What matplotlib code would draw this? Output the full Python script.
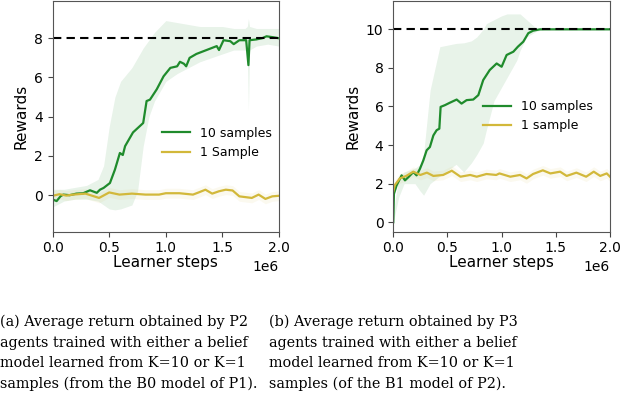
import numpy as np
import matplotlib
matplotlib.use("Agg")
import matplotlib.pyplot as plt

# ---- panel (a): P2 agents ----
a_green_x = [0, 0.035, 0.07, 0.094, 0.15, 0.21, 0.27, 0.33, 0.39, 0.418, 0.45, 0.506,
             0.55, 0.594, 0.62, 0.64, 0.71, 0.8, 0.83, 0.86, 0.92, 0.98, 1.04, 1.1,
             1.125, 1.16, 1.18, 1.21, 1.27, 1.36, 1.45, 1.47, 1.51, 1.57, 1.6, 1.65,
             1.71, 1.73, 1.74, 1.8, 1.85, 1.89, 1.95, 2.0]
a_green_y = [-0.22, -0.3, -0.05, 0.03, 0.0, 0.08, 0.1, 0.25, 0.12, 0.28, 0.37, 0.62,
             1.3, 2.15, 2.05, 2.5, 3.2, 3.68, 4.8, 4.87, 5.4, 6.06, 6.49, 6.57, 6.8,
             6.7, 6.57, 7.0, 7.2, 7.4, 7.6, 7.4, 7.9, 7.85, 7.7, 7.9, 7.9, 6.63, 7.9,
             7.94, 8.0, 8.1, 8.05, 8.0]
a_band_x = [0, 0.1, 0.2, 0.3, 0.4, 0.45, 0.5, 0.55, 0.6, 0.7, 0.75, 0.8, 0.85, 0.9, 1.0,
            1.1, 1.2, 1.3, 1.4, 1.5, 1.6, 1.7, 1.72, 1.73, 1.74, 1.8, 1.9, 2.0]
a_band_hi = [0.3, 0.3, 0.4, 0.5, 0.8, 1.5, 3.5, 5.0, 5.8, 6.5, 7.0, 7.5, 7.9, 8.3, 8.9,
             8.8, 8.7, 8.6, 8.6, 8.6, 8.5, 8.5, 8.6, 9.0, 8.6, 8.5, 8.5, 8.5]
a_band_lo = [-0.6, -0.3, -0.2, -0.2, -0.3, -0.5, -0.7, -0.75, -0.7, -0.5, 0.2, 2.5, 4.0,
             4.8, 5.8, 6.2, 6.5, 6.8, 7.0, 7.2, 7.4, 7.4, 7.3, 4.3, 7.4, 7.6, 7.7, 7.6]
a_yellow_x = [0, 0.06, 0.12, 0.18, 0.29, 0.41, 0.5, 0.59, 0.7, 0.82, 0.94, 1.0, 1.12,
              1.24, 1.29, 1.35, 1.41, 1.47, 1.53, 1.59, 1.65, 1.76, 1.82, 1.88, 1.94,
              2.0]
a_yellow_y = [-0.03, 0.05, -0.02, 0.03, 0.08, -0.14, 0.14, 0.03, 0.08, 0.03, 0.03, 0.1,
              0.1, 0.03, 0.14, 0.28, 0.08, 0.2, 0.28, 0.24, -0.06, -0.14, 0.03, -0.19,
              -0.06, -0.03]
a_target = 8

# ---- panel (b): P3 agents ----
b_green_x = [0, 0.006, 0.03, 0.077, 0.108, 0.14, 0.185, 0.215, 0.246, 0.277, 0.308,
             0.338, 0.37, 0.4, 0.425, 0.437, 0.477, 0.52, 0.585, 0.63, 0.677, 0.738,
             0.785, 0.83, 0.89, 0.954, 1.0, 1.046, 1.108, 1.15, 1.2, 1.246, 1.29, 1.354,
             1.6, 2.0]
b_green_y = [0.0, 1.47, 1.9, 2.43, 2.17, 2.34, 2.6, 2.43, 2.77, 3.2, 3.73, 3.9, 4.5,
             4.77, 4.85, 5.98, 6.07, 6.19, 6.36, 6.15, 6.33, 6.36, 6.59, 7.37, 7.89,
             8.23, 8.06, 8.67, 8.84, 9.1, 9.36, 9.8, 9.93, 10.0, 10.0, 10.0]
b_band_x = [0, 0.05, 0.1, 0.2, 0.25, 0.28, 0.34, 0.43, 0.58, 0.65, 0.72, 0.77, 0.83,
            0.86, 0.93, 1.0, 1.05, 1.14, 1.17, 1.23, 1.32, 1.4, 2.0]
b_band_hi = [0.5, 2.3, 2.6, 2.8, 3.0, 3.55, 6.85, 9.1, 9.27, 9.3, 9.4, 9.6, 10.0,
             10.3, 10.5, 10.7, 10.8, 10.8, 10.8, 10.5, 10.05, 10.0, 10.0]
b_band_lo = [0.0, 1.3, 2.0, 2.0, 1.6, 1.4, 2.0, 2.4, 3.0, 2.6, 3.07, 3.5, 4.1,
             4.8, 6.3, 7.0, 7.5, 8.4, 8.9, 9.6, 9.9, 10.0, 10.0]
b_yellow_x = [0, 0.015, 0.06, 0.12, 0.185, 0.25, 0.31, 0.37, 0.46, 0.54, 0.62, 0.71,
              0.77, 0.86, 0.95, 0.98, 1.08, 1.17, 1.23, 1.29, 1.38, 1.45, 1.54, 1.6,
              1.69, 1.78, 1.85, 1.91, 1.97, 2.0]
b_yellow_y = [1.6, 1.93, 2.27, 2.4, 2.62, 2.45, 2.57, 2.4, 2.45, 2.67, 2.36, 2.45,
              2.36, 2.5, 2.45, 2.53, 2.36, 2.45, 2.27, 2.5, 2.69, 2.53, 2.62, 2.4,
              2.57, 2.36, 2.62, 2.4, 2.53, 2.36]
b_target = 10

captions = [
    "(a) Average return obtained by P2\nagents trained with either a belief\n"
    "model learned from K=10 or K=1\nsamples (from the B0 model of P1).",
    "(b) Average return obtained by P3\nagents trained with either a belief\n"
    "model learned from K=10 or K=1\nsamples (of the B1 model of P2).",
]

GREEN = "#1f8b2c"
YELLOW = "#d2b83a"
SCALE = 1e6

fig = plt.figure(figsize=(6.4, 3.94), dpi=100)
ax_a = fig.add_axes([0.0823, 0.412, 0.3536, 0.5855])
ax_b = fig.add_axes([0.6145, 0.412, 0.3386, 0.5855])


def draw_panel(ax, gx, gy, bx, blo, bhi, yx, yy, target, one_label, ylim, yticks, leg_at):
    gx = np.array(gx) * SCALE
    bx = np.array(bx) * SCALE
    yx = np.array(yx) * SCALE
    ax.fill_between(bx, blo, bhi, color=GREEN, alpha=0.1, linewidth=0)
    yy = np.array(yy)
    ax.fill_between(yx, yy - 0.25, yy + 0.25, color=YELLOW, alpha=0.08, linewidth=0)
    ax.plot(gx, gy, color=GREEN, lw=1.6, label="10 samples")
    ax.plot(yx, yy, color=YELLOW, lw=1.6, label=one_label)
    ax.axhline(target, color="black", ls="--", lw=1.5, dashes=(4, 2.5))
    ax.set_xlim(0, 2.0 * SCALE)
    ax.set_ylim(*ylim)
    ax.set_yticks(yticks)
    ax.set_xticks(np.arange(0, 2.01, 0.5) * SCALE)
    ax.tick_params(labelsize=10, length=3.5, color="#444444")
    for sp in ax.spines.values():
        sp.set_color("#555555")
    ax.xaxis.get_offset_text().set_fontsize(10)
    ax.set_xlabel("Learner steps", fontsize=11, labelpad=0)
    ax.set_ylabel("Rewards", fontsize=11, labelpad=4)
    ax.legend(loc="center right", bbox_to_anchor=leg_at, frameon=False,
              fontsize=9, handlelength=2.25, handletextpad=0.8, labelspacing=0.5)


draw_panel(ax_a, a_green_x, a_green_y, a_band_x, a_band_lo, a_band_hi,
           a_yellow_x, a_yellow_y, a_target, "1 Sample", (-1.86, 9.9), [0, 2, 4, 6, 8],
           (1.02, 0.385))
draw_panel(ax_b, b_green_x, b_green_y, b_band_x, b_band_lo, b_band_hi,
           b_yellow_x, b_yellow_y, b_target, "1 sample", (-0.49, 11.47),
           [0, 2, 4, 6, 8, 10], (0.975, 0.5))

fig.text(0.0, 0.104, captions[0], ha="left", va="center", fontsize=10.4,
         family="DejaVu Serif", linespacing=1.6)
fig.text(0.42, 0.104, captions[1], ha="left", va="center", fontsize=10.4,
         family="DejaVu Serif", linespacing=1.6)

fig.savefig("out.png", dpi=100)
